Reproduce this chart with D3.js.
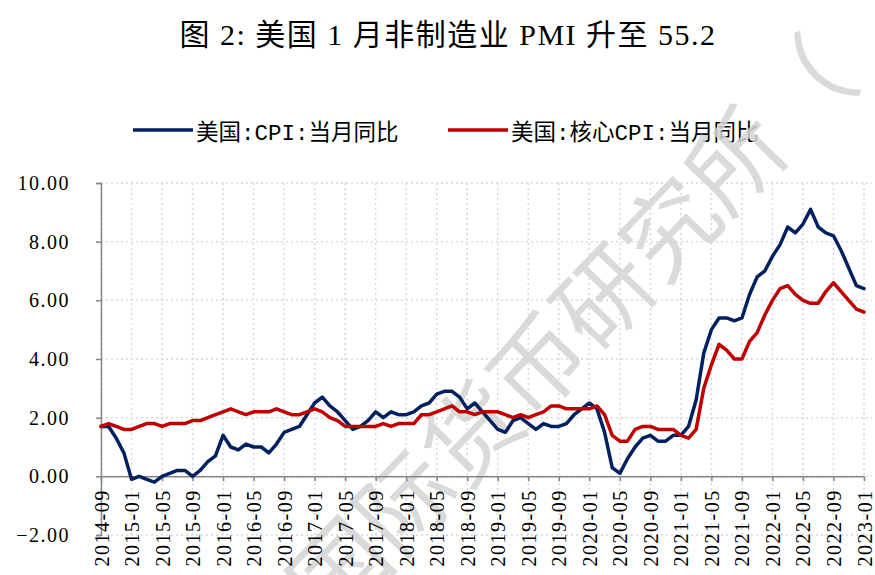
<!DOCTYPE html>
<html><head><meta charset="utf-8">
<script src="https://cdn.jsdelivr.net/npm/d3@7/dist/d3.min.js"></script>
<style>body{margin:0;background:#fff}svg{display:block}</style>
</head><body>
<svg id="c" width="875" height="575"></svg>
<script>
const months = [
 "2014-09","2014-10","2014-11","2014-12",
 "2015-01","2015-02","2015-03","2015-04","2015-05","2015-06","2015-07","2015-08","2015-09","2015-10","2015-11","2015-12",
 "2016-01","2016-02","2016-03","2016-04","2016-05","2016-06","2016-07","2016-08","2016-09","2016-10","2016-11","2016-12",
 "2017-01","2017-02","2017-03","2017-04","2017-05","2017-06","2017-07","2017-08","2017-09","2017-10","2017-11","2017-12",
 "2018-01","2018-02","2018-03","2018-04","2018-05","2018-06","2018-07","2018-08","2018-09","2018-10","2018-11","2018-12",
 "2019-01","2019-02","2019-03","2019-04","2019-05","2019-06","2019-07","2019-08","2019-09","2019-10","2019-11","2019-12",
 "2020-01","2020-02","2020-03","2020-04","2020-05","2020-06","2020-07","2020-08","2020-09","2020-10","2020-11","2020-12",
 "2021-01","2021-02","2021-03","2021-04","2021-05","2021-06","2021-07","2021-08","2021-09","2021-10","2021-11","2021-12",
 "2022-01","2022-02","2022-03","2022-04","2022-05","2022-06","2022-07","2022-08","2022-09","2022-10","2022-11","2022-12",
 "2023-01"];
const cpi = [
 1.7,1.7,1.3,0.8,
 -0.1,0.0,-0.1,-0.2,0.0,0.1,0.2,0.2,0.0,0.2,0.5,0.7,
 1.4,1.0,0.9,1.1,1.0,1.0,0.8,1.1,1.5,1.6,1.7,2.1,
 2.5,2.7,2.4,2.2,1.9,1.6,1.7,1.9,2.2,2.0,2.2,2.1,
 2.1,2.2,2.4,2.5,2.8,2.9,2.9,2.7,2.3,2.5,2.2,1.9,
 1.6,1.5,1.9,2.0,1.8,1.6,1.8,1.7,1.7,1.8,2.1,2.3,
 2.5,2.3,1.5,0.3,0.1,0.6,1.0,1.3,1.4,1.2,1.2,1.4,
 1.4,1.7,2.6,4.2,5.0,5.4,5.4,5.3,5.4,6.2,6.8,7.0,
 7.5,7.9,8.5,8.3,8.6,9.1,8.5,8.3,8.2,7.7,7.1,6.5,
 6.4];
const core = [
 1.7,1.8,1.7,1.6,
 1.6,1.7,1.8,1.8,1.7,1.8,1.8,1.8,1.9,1.9,2.0,2.1,
 2.2,2.3,2.2,2.1,2.2,2.2,2.2,2.3,2.2,2.1,2.1,2.2,
 2.3,2.2,2.0,1.9,1.7,1.7,1.7,1.7,1.7,1.8,1.7,1.8,
 1.8,1.8,2.1,2.1,2.2,2.3,2.4,2.2,2.2,2.1,2.2,2.2,
 2.2,2.1,2.0,2.1,2.0,2.1,2.2,2.4,2.4,2.3,2.3,2.3,
 2.3,2.4,2.1,1.4,1.2,1.2,1.6,1.7,1.7,1.6,1.6,1.6,
 1.4,1.3,1.6,3.0,3.8,4.5,4.3,4.0,4.0,4.6,4.9,5.5,
 6.0,6.4,6.5,6.2,6.0,5.9,5.9,6.3,6.6,6.3,6.0,5.7,
 5.6];
const tickLabels = ["2014-09","2015-01","2015-05","2015-09","2016-01","2016-05","2016-09",
 "2017-01","2017-05","2017-09","2018-01","2018-05","2018-09","2019-01","2019-05","2019-09",
 "2020-01","2020-05","2020-09","2021-01","2021-05","2021-09","2022-01","2022-05","2022-09","2023-01"];
const yTicks = [-2,0,2,4,6,8,10];
const titleText = "图 2: 美国 1 月非制造业 PMI 升至 55.2";
const seriesNames = ["美国:CPI:当月同比","美国:核心CPI:当月同比"];
const seriesColors = ["#002060","#C00000"];
const watermarkText = "国际货币研究所（";

const svg = d3.select("#c");
const x = d3.scalePoint().domain(months).range([101, 864]);
const y = d3.scaleLinear().domain([-2, 10]).range([535, 183]);

// title
svg.append("text").attr("x", 448).attr("y", 45).attr("text-anchor", "middle")
  .style("font-family", "'Liberation Serif','Noto Sans CJK SC',serif")
  .style("font-size", "30px").style("letter-spacing", "1.5px").attr("fill", "#000")
  .text(titleText);

// legend
const legX = [133, 448];
const leg = svg.append("g");
seriesNames.forEach((n, i) => {
  leg.append("line").attr("x1", legX[i]).attr("x2", legX[i] + 60).attr("y1", 130).attr("y2", 130)
    .attr("stroke", seriesColors[i]).attr("stroke-width", 3.5);
  leg.append("text").attr("x", legX[i] + 63).attr("y", 134).attr("dominant-baseline", "central")
    .style("font-family", "'Liberation Mono','Noto Sans CJK SC',monospace")
    .style("font-size", "22.5px").attr("fill", "#000").text(n);
});

// grid
const grid = svg.append("g").attr("stroke", "#d9d9d9").attr("stroke-width", 1.5).attr("stroke-dasharray", "2,3");
yTicks.forEach(t => {
  grid.append("line").attr("x1", 101).attr("x2", 872).attr("y1", y(t)).attr("y2", y(t));
});
tickLabels.forEach(t => {
  grid.append("line").attr("x1", x(t)).attr("x2", x(t)).attr("y1", y(10)).attr("y2", y(-2));
});

// watermark
svg.append("text").attr("transform", "translate(302,600) rotate(-46)")
  .attr("dominant-baseline", "central")
  .style("font-family", "'Noto Sans CJK SC',sans-serif").style("font-size", "95px")
  .attr("fill", "#d4d4d4").attr("fill-opacity", 0.85).text(watermarkText);

// y axis
const yAxis = svg.append("g").attr("transform", "translate(101,0)")
  .call(d3.axisLeft(y).tickValues(yTicks).tickFormat(d3.format(".2f")).tickSize(5).tickPadding(26));
yAxis.select(".domain").attr("stroke", "#868686").attr("stroke-width", 1.5);
yAxis.selectAll(".tick line").attr("stroke", "#868686").attr("stroke-width", 1.5);
yAxis.selectAll(".tick text").style("font-family", "'Liberation Serif',serif").style("font-size", "20px")
  .style("letter-spacing", "1.5px").attr("fill", "#000");

// x axis at zero
const xAxis = svg.append("g").attr("transform", `translate(0,${y(0)})`)
  .call(d3.axisBottom(x).tickValues(tickLabels).tickSize(5).tickSizeOuter(0));
xAxis.select(".domain").attr("stroke", "#868686").attr("stroke-width", 1.5);
xAxis.selectAll(".tick line").attr("stroke", "#868686").attr("stroke-width", 1.5);
xAxis.selectAll(".tick text")
  .attr("transform", "rotate(-90)").attr("text-anchor", "end")
  .attr("x", -13).attr("y", 0).attr("dy", "0.35em")
  .style("font-family", "'Liberation Serif',serif").style("font-size", "20px")
  .style("letter-spacing", "1.5px").attr("fill", "#000");

// lines
const line = d3.line().x((d, i) => x(months[i])).y(d => y(d));
[cpi, core].forEach((s, i) => {
  svg.append("path").datum(s).attr("d", line).attr("fill", "none")
    .attr("stroke", seriesColors[i]).attr("stroke-width", 3.5)
    .attr("stroke-linejoin", "round").attr("stroke-linecap", "round");
});
</script>
</body></html>
